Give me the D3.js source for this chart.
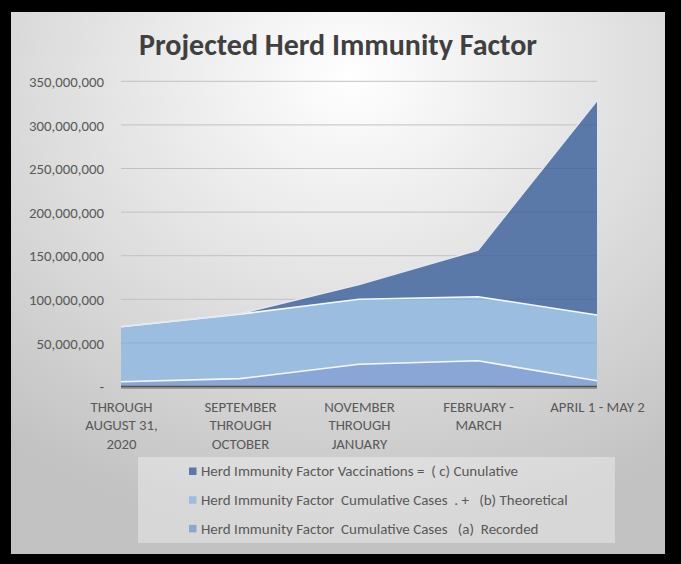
<!DOCTYPE html>
<html>
<head>
<meta charset="utf-8">
<script src="https://cdn.jsdelivr.net/npm/d3@7"></script>
<style>
  html, body { margin: 0; padding: 0; background: #000; }
  svg { display: block; }
  text { font-family: Carlito, Lato, "Open Sans", sans-serif; }
</style>
</head>
<body>
<svg id="chart" width="681" height="564"></svg>
<script>
// ---- data ----
const categories = [
  ["THROUGH", "AUGUST 31,", "2020"],
  ["SEPTEMBER", "THROUGH", "OCTOBER"],
  ["NOVEMBER", "THROUGH", "JANUARY"],
  ["FEBRUARY -", "MARCH"],
  ["APRIL 1 - MAY 2"]
];
const recorded     = [5500000, 9000000, 25500000, 29500000, 6500000];
const theoretical  = [63000000, 74000000, 74500000, 73500000, 75500000];
const vaccinations = [0, 500000, 17000000, 53500000, 246000000];
const yTicks = [0, 50000000, 100000000, 150000000, 200000000, 250000000, 300000000, 350000000];
const seriesNames = [
  "Herd Immunity Factor  Cumulative Cases   (a)  Recorded",
  "Herd Immunity Factor  Cumulative Cases  . +   (b) Theoretical",
  "Herd Immunity Factor Vaccinations =  ( c) Cunulative"
];
const seriesColors = ["#8aa6d6", "#9bbee0", "#5b79a8"];
const title = "Projected Herd Immunity Factor";

// ---- layout ----
const svg = d3.select("#chart");
const defs = svg.append("defs");
const grad = defs.append("radialGradient").attr("id", "bg")
  .attr("cx", "52%").attr("cy", "12%").attr("r", "85%");
grad.append("stop").attr("offset", "0%").attr("stop-color", "#ffffff");
grad.append("stop").attr("offset", "100%").attr("stop-color", "#c2c2c2");

svg.append("rect").attr("width", 681).attr("height", 564).attr("fill", "#000");
svg.append("rect").attr("x", 11).attr("y", 12).attr("width", 654).attr("height", 542).attr("fill", "url(#bg)");

svg.append("text").attr("x", 338).attr("y", 55).attr("text-anchor", "middle")
  .attr("font-size", 30).attr("font-weight", "bold").attr("fill", "#404040").text(title);

const idx = d3.range(categories.length);
const x = d3.scalePoint().domain(idx).range([121, 597]);
const y = d3.scaleLinear().domain([0, 350000000]).range([386.5, 81.3]);

// gridlines
svg.append("g").selectAll("line").data(yTicks.slice(1)).join("line")
  .attr("x1", 121).attr("x2", 597)
  .attr("y1", d => y(d)).attr("y2", d => y(d))
  .attr("stroke", "#d0d0d0").attr("stroke-width", 1);

// stacked areas
const rows = idx.map(i => ({ i, a: recorded[i], b: theoretical[i], c: vaccinations[i] }));
const stack = d3.stack().keys(["a", "b", "c"]);
const layers = stack(rows);
const area = d3.area().x(d => x(d.data.i)).y0(d => y(d[0])).y1(d => y(d[1]));
const topLine = d3.line().x(d => x(d.data.i)).y(d => y(d[1]));

svg.append("g").selectAll("path").data(layers).join("path")
  .attr("d", area).attr("fill", (d, k) => seriesColors[k]);

// gridlines visible through areas
svg.append("g").selectAll("line").data(yTicks.slice(1)).join("line")
  .attr("x1", 121).attr("x2", 597)
  .attr("y1", d => y(d)).attr("y2", d => y(d))
  .attr("stroke", "rgba(0,0,0,0.07)").attr("stroke-width", 1);

svg.append("g").selectAll("path").data(layers).join("path")
  .attr("d", topLine).attr("fill", "none")
  .attr("stroke", (d, k) => k === 2 ? "#e4e8ee" : "#f4f8fc").attr("stroke-width", 1.6);

// baseline
svg.append("line").attr("x1", 121).attr("x2", 597).attr("y1", y(0) + 1.5).attr("y2", y(0) + 1.5)
  .attr("stroke", "rgba(0,0,0,0.25)").attr("stroke-width", 2);
svg.append("line").attr("x1", 121).attr("x2", 597).attr("y1", y(0)).attr("y2", y(0))
  .attr("stroke", "#505050").attr("stroke-width", 1.5);

// y axis
const fmt = d3.format(",");
const yAxis = d3.axisLeft(y).tickValues(yTicks).tickSize(0).tickPadding(0)
  .tickFormat(d => d === 0 ? "-" : fmt(d));
const ya = svg.append("g").attr("transform", "translate(104,0)").call(yAxis);
ya.select(".domain").remove();
ya.selectAll("text").attr("font-size", 14.8).attr("fill", "#595959")
  .attr("font-family", "Carlito, Lato, sans-serif").attr("dy", "0.35em");

// x axis
const xAxis = d3.axisBottom(x).tickSize(0).tickFormat("");
const xa = svg.append("g").attr("transform", `translate(0,${y(0)})`).call(xAxis);
xa.select(".domain").remove();
xa.selectAll(".tick").each(function(i) {
  const t = d3.select(this).append("text").attr("text-anchor", "middle")
    .attr("font-size", 14.8).attr("fill", "#595959");
  categories[i].forEach((ln, j) => {
    t.append("tspan").attr("x", 0).attr("y", 20 + j * 18.5 + 5).text(ln);
  });
});

// legend
svg.append("rect").attr("x", 138).attr("y", 457).attr("width", 477).attr("height", 86)
  .attr("fill", "rgba(255,255,255,0.35)");
const legendOrder = [2, 1, 0];
const lg = svg.append("g").selectAll("g").data(legendOrder).join("g")
  .attr("transform", (k, j) => `translate(189,${471 + j * 28.7})`);
lg.append("rect").attr("x", 0).attr("y", -3.5).attr("width", 7.5).attr("height", 7.5)
  .attr("fill", k => seriesColors[k]);
lg.append("text").attr("x", 12).attr("dy", "0.35em").attr("font-size", 15)
  .attr("fill", "#595959").style("white-space", "pre").text(k => seriesNames[k]);
</script>
</body>
</html>
